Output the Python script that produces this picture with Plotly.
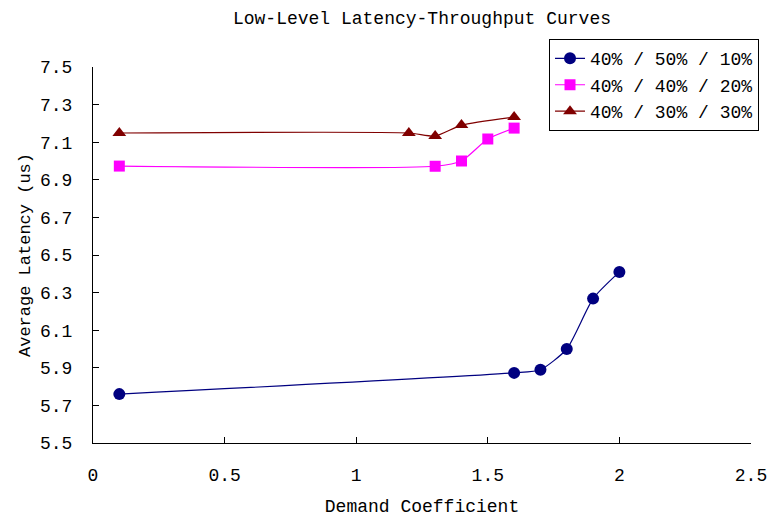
import plotly.graph_objects as go

x_blue = [0.1, 1.6, 1.7, 1.8, 1.9, 2.0]
y_blue = [5.76, 5.873, 5.89, 6.0, 6.268, 6.41]
x_mag = [0.1, 1.3, 1.4, 1.5, 1.6]
y_mag = [6.973, 6.972, 7.0, 7.117, 7.175]
x_red = [0.1, 1.2, 1.3, 1.4, 1.6]
y_red = [7.149, 7.149, 7.133, 7.191, 7.234]
names = ["40% / 50% / 10%", "40% / 40% / 20%", "40% / 30% / 30%"]
y_ticks = [5.5, 5.7, 5.9, 6.1, 6.3, 6.5, 6.7, 6.9, 7.1, 7.3, 7.5]
x_ticks = [0, 0.5, 1, 1.5, 2, 2.5]

FONT = "Liberation Mono"

fig = go.Figure()
fig.add_trace(go.Scatter(x=x_blue, y=y_blue, name=names[0], mode="lines+markers",
                         line=dict(color="#000080", width=1.2, shape="spline", smoothing=0.6),
                         marker=dict(symbol="circle", size=12, color="#000080")))
fig.add_trace(go.Scatter(x=x_mag, y=y_mag, name=names[1], mode="lines+markers",
                         line=dict(color="#FF00FF", width=1.2, shape="spline", smoothing=0.6),
                         marker=dict(symbol="square", size=11, color="#FF00FF")))
fig.add_trace(go.Scatter(x=x_red, y=y_red, name=names[2], mode="lines+markers",
                         line=dict(color="#800000", width=1.2, shape="spline", smoothing=0.6),
                         marker=dict(symbol="triangle-up", size=12, color="#800000")))

fig.update_layout(
    width=770, height=522,
    margin=dict(l=93, r=19, t=67, b=79, autoexpand=False),
    paper_bgcolor="white", plot_bgcolor="white",
    font=dict(family=FONT, color="black", size=17),
    title=dict(text="Low-Level Latency-Throughput Curves", x=0.548, xanchor="center",
               xref="container", yref="container",
               y=0.967, yanchor="middle", font=dict(size=18, family=FONT)),
    legend=dict(x=0.713, y=0.925, xanchor="left", yanchor="top",
                xref="container", yref="container",
                bordercolor="black", borderwidth=1, bgcolor="white",
                font=dict(size=18, family=FONT), itemwidth=30, tracegroupgap=0),
    showlegend=True,
)
fig.update_xaxes(range=[0, 2.5], tickvals=x_ticks, ticktext=["0", "0.5", "1", "1.5", "2", "2.5"],
                 showgrid=False, zeroline=False, showline=True, linecolor="black", linewidth=1,
                 ticks="inside", ticklen=6, tickcolor="black", automargin=False,
                 tickfont=dict(size=18, family=FONT), ticklabelstandoff=15,
                 title=dict(text="Demand Coefficient", font=dict(size=18, family=FONT), standoff=14))
fig.update_yaxes(range=[5.5, 7.5], tickvals=y_ticks, ticktext=[f"{v:.1f}" for v in y_ticks],
                 showgrid=False, zeroline=False, showline=True, linecolor="black", linewidth=1,
                 ticks="inside", ticklen=6, tickcolor="black", automargin=False,
                 tickfont=dict(size=18, family=FONT), ticklabelstandoff=16,
                 title=dict(text="Average Latency (us)", font=dict(size=17, family=FONT), standoff=5))

fig.write_html("out.html")
